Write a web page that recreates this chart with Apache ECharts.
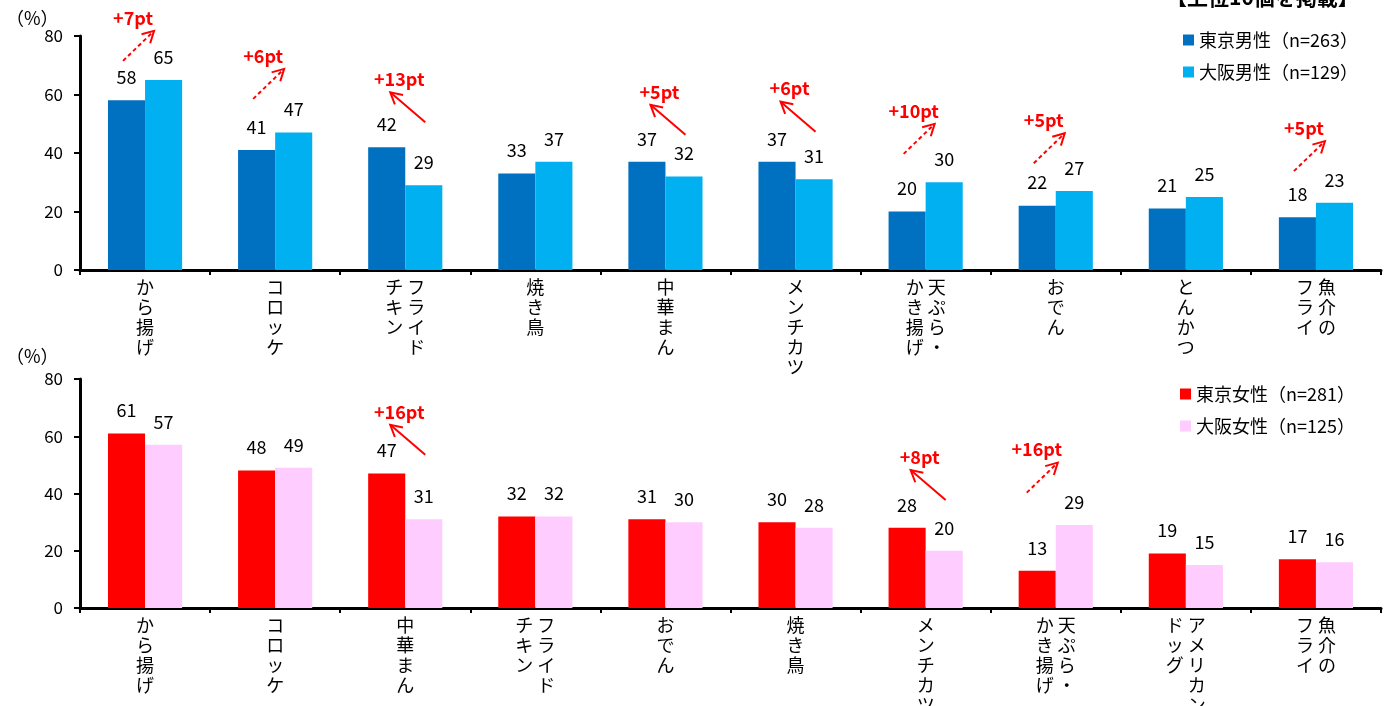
<!DOCTYPE html>
<html><head><meta charset="utf-8">
<script src="https://cdn.jsdelivr.net/npm/echarts@6/dist/echarts.min.js"></script>
<style>html,body{margin:0;padding:0;background:#fff;}#c{width:1385px;height:706px;}</style>
</head><body><div id="c"></div>
<script>
// ---- data ----
// '\n' separates vertical text columns (first = rightmost column)
const topCategories = ['から揚げ','コロッケ','フライド\nチキン','焼き鳥','中華まん','メンチカツ','天ぷら・\nかき揚げ','おでん','とんかつ','魚介の\nフライ'];
const tokyoMale = [58, 41, 42, 33, 37, 37, 20, 22, 21, 18];
const osakaMale = [65, 47, 29, 37, 32, 31, 30, 27, 25, 23];
const bottomCategories = ['から揚げ','コロッケ','中華まん','フライド\nチキン','おでん','焼き鳥','メンチカツ','天ぷら・\nかき揚げ','アメリカン\nドッグ','魚介の\nフライ'];
const tokyoFemale = [61, 48, 47, 32, 31, 30, 28, 13, 19, 17];
const osakaFemale = [57, 49, 31, 32, 30, 28, 20, 29, 15, 16];
const seriesNames = ['東京男性（n=263）','大阪男性（n=129）','東京女性（n=281）','大阪女性（n=125）'];
const yTicks = [0, 20, 40, 60, 80];
// difference callouts: category index, text, up = Osaka higher (dashed arrow), at = arrow tail value
const topNotes = [
  {cat:0, text:'+7pt', up:true, at:71.5},
  {cat:1, text:'+6pt', up:true, at:58.5},
  {cat:2, text:'+13pt', up:false, at:50.5},
  {cat:4, text:'+5pt', up:false, at:46.2},
  {cat:5, text:'+6pt', up:false, at:47.3},
  {cat:6, text:'+10pt', up:true, at:39.7},
  {cat:7, text:'+5pt', up:true, at:36.5},
  {cat:9, text:'+5pt', up:true, at:33.8}
];
const bottomNotes = [
  {cat:2, text:'+16pt', up:false, at:53.5},
  {cat:6, text:'+8pt', up:false, at:37.7},
  {cat:7, text:'+16pt', up:true, at:40.3, shift:-7}
];

const FONT = '"Noto Sans CJK JP", "Noto Sans", sans-serif';
function vertical(s){
  const cols = s.split('\n').map(c => Array.from(c));
  const n = Math.max(...cols.map(c => c.length));
  const lines = [];
  for (let i = 0; i < n; i++) {
    const row = [];
    for (let j = cols.length - 1; j >= 0; j--) row.push(cols[j][i] || '　');
    lines.push(row.join(' '));
  }
  return lines.join('\n');
}

const chart = echarts.init(document.getElementById('c'), null, {renderer:'canvas'});
const grids = [
  {left:80, right:4, top:36, height:234, outerBoundsMode:'none', containLabel:false},
  {left:80, right:4, top:379, height:229, outerBoundsMode:'none', containLabel:false}
];
function xAxis(idx, cats){
  return {
    type:'category', gridIndex:idx, data:cats,
    axisLine:{lineStyle:{color:'#000', width:3}},
    axisTick:{show:true, length:5, lineStyle:{color:'#000', width:2}},
    axisLabel:{interval:0, formatter:vertical, color:'#000', fontFamily:FONT, fontSize:18, lineHeight:20, verticalAlign:'top', margin:7, hideOverlap:false}
  };
}
function yAxis(idx){
  return {
    type:'value', gridIndex:idx, min:yTicks[0], max:yTicks[yTicks.length-1], interval:20,
    axisLine:{show:true, lineStyle:{color:'#000', width:3}},
    axisTick:{show:true, length:6, lineStyle:{color:'#000', width:2}},
    splitLine:{show:false},
    axisLabel:{color:'#000', fontFamily:FONT, fontSize:17, margin:17}
  };
}
function barSeries(name, data, idx, color){
  return {
    name, type:'bar', data, xAxisIndex:idx, yAxisIndex:idx,
    barGap:'0%', barCategoryGap:'43%',
    itemStyle:{color},
    label:{show:true, position:'top', distance:14, color:'#000', fontFamily:FONT, fontSize:18},
    animation:false
  };
}
const legendBase = {
  orient:'vertical', icon:'rect', itemWidth:11, itemHeight:11, itemGap:12, padding:0,
  textStyle:{color:'#000', fontFamily:FONT, fontSize:18, lineHeight:20}
};
chart.setOption({
  animation:false,
  grid:grids,
  xAxis:[xAxis(0, topCategories), xAxis(1, bottomCategories)],
  yAxis:[yAxis(0), yAxis(1)],
  legend:[
    Object.assign({}, legendBase, {left:1183, top:30, data:[seriesNames[0], seriesNames[1]]}),
    Object.assign({}, legendBase, {left:1180, top:384, data:[seriesNames[2], seriesNames[3]]})
  ],
  series:[
    barSeries(seriesNames[0], tokyoMale, 0, '#0070C0'),
    barSeries(seriesNames[1], osakaMale, 0, '#00B0F0'),
    barSeries(seriesNames[2], tokyoFemale, 1, '#FF0000'),
    barSeries(seriesNames[3], osakaFemale, 1, '#FFCCFF')
  ]
});

function noteGraphics(notes, g){
  const out = [];
  notes.forEach(n => {
    const p = chart.convertToPixel({gridIndex:g}, [n.cat, n.at]);
    const s = n.shift || 0;
    const tail = n.up ? [p[0] - 22 + s, p[1]] : [p[0] + 20 + s, p[1]];
    const tip = n.up ? [p[0] + 9 + s, p[1] - 30] : [p[0] - 15 + s, p[1] - 30];
    const dx = tip[0] - tail[0], dy = tip[1] - tail[1];
    const L = Math.hypot(dx, dy), ux = dx / L, uy = dy / L;
    const head = a => {
      const c = Math.cos(a), sn = Math.sin(a);
      const rx = ux * c - uy * sn, ry = ux * sn + uy * c;
      return [tip[0] - 13 * rx, tip[1] - 13 * ry];
    };
    const style = {stroke:'#FF0000', lineWidth:2, lineDash: n.up ? [4, 3] : null};
    out.push({type:'line', shape:{x1:tail[0], y1:tail[1], x2:tip[0], y2:tip[1]}, style, silent:true});
    out.push({type:'polyline', shape:{points:[head(0.5), tip, head(-0.5)]}, style:{stroke:'#FF0000', lineWidth:2, fill:null}, silent:true});
    out.push({type:'text', x: p[0] + (n.up ? -12 : -6) + s, y: tip[1] - 13,
      style:{text:n.text, fill:'#FF0000', font:'bold 18px ' + FONT, align:'center', verticalAlign:'middle'}, silent:true});
  });
  return out;
}
const gfx = [].concat(noteGraphics(topNotes, 0), noteGraphics(bottomNotes, 1));
gfx.push({type:'text', left:6, top:9, style:{text:'（%）', fill:'#000', font:'18px ' + FONT}});
gfx.push({type:'text', left:6, top:347, style:{text:'（%）', fill:'#000', font:'18px ' + FONT}});
gfx.push({type:'text', left:1166, top:-13, style:{text:'【上位10個を掲載】', fill:'#000', font:'bold 21px ' + FONT}});
chart.setOption({graphic:gfx});
</script></body></html>
